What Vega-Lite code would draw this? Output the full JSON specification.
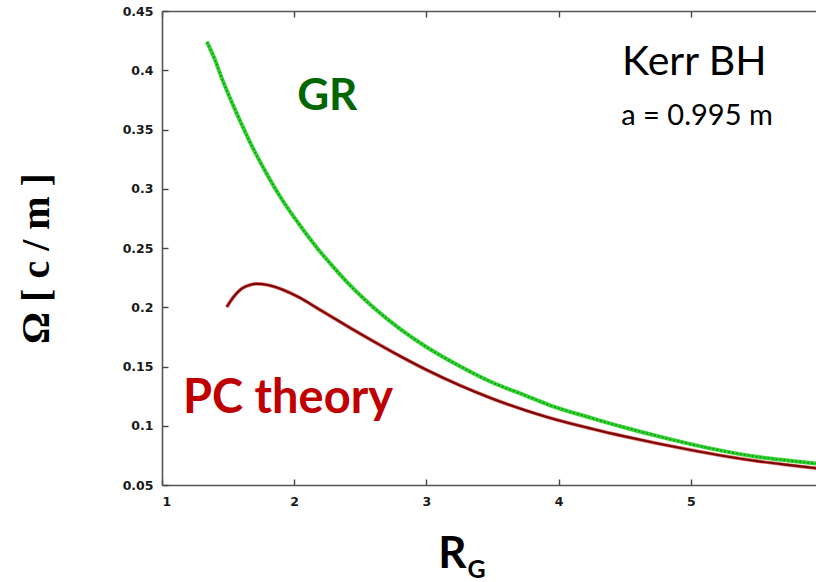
{
  "$schema": "https://vega.github.io/schema/vega-lite/v6.json",
  "width": 661,
  "height": 474,
  "autosize": {"type": "none"},
  "padding": {"left": 162, "top": 11, "right": 0, "bottom": 97},
  "background": "white",
  "config": {
    "view": {"stroke": null},
    "axis": {
      "grid": false,
      "domainColor": "#555555",
      "domainWidth": 1.6,
      "tickColor": "#444444",
      "tickWidth": 1.4,
      "tickSize": -6,
      "labelFont": "DejaVu Sans",
      "labelFontSize": 12.5,
      "labelFontWeight": "bold",
      "labelColor": "#1a1a1a"
    }
  },
  "datasets": {
    "gr": [
      {"r": 1.34, "omega": 0.424},
      {"r": 1.4, "omega": 0.409},
      {"r": 1.45, "omega": 0.394},
      {"r": 1.536, "omega": 0.371},
      {"r": 1.6, "omega": 0.355},
      {"r": 1.687, "omega": 0.3345},
      {"r": 1.8, "omega": 0.311},
      {"r": 1.91, "omega": 0.2905},
      {"r": 2.0, "omega": 0.2758},
      {"r": 2.17, "omega": 0.2505},
      {"r": 2.3, "omega": 0.2335},
      {"r": 2.42, "omega": 0.2188},
      {"r": 2.6, "omega": 0.1998},
      {"r": 2.8, "omega": 0.1818},
      {"r": 3.0, "omega": 0.1665},
      {"r": 3.25, "omega": 0.1505},
      {"r": 3.5, "omega": 0.1365},
      {"r": 3.75, "omega": 0.1255},
      {"r": 3.93, "omega": 0.1175},
      {"r": 4.25, "omega": 0.1065},
      {"r": 4.5, "omega": 0.0985},
      {"r": 4.75, "omega": 0.0912},
      {"r": 5.0, "omega": 0.0845},
      {"r": 5.25, "omega": 0.0786},
      {"r": 5.5, "omega": 0.0738},
      {"r": 5.75, "omega": 0.0705},
      {"r": 6.0, "omega": 0.0675}
    ],
    "pc": [
      {"r": 1.49, "omega": 0.2002},
      {"r": 1.54, "omega": 0.2085},
      {"r": 1.6, "omega": 0.2155},
      {"r": 1.67, "omega": 0.219},
      {"r": 1.717, "omega": 0.2198},
      {"r": 1.8, "omega": 0.2188},
      {"r": 1.914, "omega": 0.2148},
      {"r": 2.04, "omega": 0.2082},
      {"r": 2.17, "omega": 0.1995},
      {"r": 2.3, "omega": 0.1908},
      {"r": 2.42, "omega": 0.1828},
      {"r": 2.6, "omega": 0.1712},
      {"r": 2.8, "omega": 0.1588},
      {"r": 3.0, "omega": 0.1472},
      {"r": 3.25, "omega": 0.1342},
      {"r": 3.5, "omega": 0.1228},
      {"r": 3.75, "omega": 0.113},
      {"r": 3.93, "omega": 0.1068},
      {"r": 4.25, "omega": 0.0975},
      {"r": 4.5, "omega": 0.091},
      {"r": 4.75, "omega": 0.085},
      {"r": 5.0, "omega": 0.0795},
      {"r": 5.25, "omega": 0.0745},
      {"r": 5.5, "omega": 0.0702},
      {"r": 5.75, "omega": 0.0667},
      {"r": 6.0, "omega": 0.0635}
    ],
    "grLabel": [
      {"label": "GR", "r": 2.25, "omega": 0.3665}
    ],
    "pcLabel": [
      {"label": "PC theory", "r": 1.159, "omega": 0.1108}
    ],
    "kerr": [
      {"label": "Kerr BH", "r": 4.48, "omega": 0.396}
    ],
    "spin": [
      {"label": "a = 0.995 m", "r": 4.474, "omega": 0.3538}
    ],
    "subscript": [
      {"label": "G", "r": 3.311, "omega": -0.0285}
    ]
  },
  "resolve": {"axis": {"x": "independent", "y": "independent"}},
  "layer": [
    {
      "data": {"name": "gr"},
      "mark": {"type": "line", "color": "#38d438", "strokeWidth": 4, "interpolate": "monotone"},
      "encoding": {
        "x": {
          "field": "r", "type": "quantitative",
          "scale": {"domain": [1, 6], "nice": false, "zero": false},
          "axis": {
            "orient": "bottom", "values": [1, 2, 3, 4, 5], "format": "d",
            "labelPadding": 16,
            "title": "R",
            "titleFont": "Lato", "titleFontWeight": "bold", "titleFontSize": 44, "titleColor": "#000000",
            "titleX": 290, "titleY": 82, "titleAlign": "center", "titleBaseline": "alphabetic"
          }
        },
        "y": {
          "field": "omega", "type": "quantitative",
          "scale": {"domain": [0.05, 0.45], "nice": false, "zero": false},
          "axis": {
            "orient": "left",
            "values": [0.05, 0.1, 0.15, 0.2, 0.25, 0.3, 0.35, 0.4, 0.45],
            "format": ".2~f",
            "labelPadding": 15,
            "title": "Ω [ c / m ]",
            "titleFont": "Liberation Serif", "titleFontWeight": "bold", "titleFontSize": 40, "titleColor": "#000000",
            "titleAngle": 270, "titleX": -126, "titleY": 247, "titleAlign": "center", "titleBaseline": "middle"
          }
        }
      }
    },
    {
      "data": {"name": "gr"},
      "mark": {"type": "line", "color": "#10a010", "strokeWidth": 1.8, "strokeDash": [2, 2], "interpolate": "monotone"},
      "encoding": {
        "x": {"field": "r", "type": "quantitative", "scale": {"domain": [1, 6], "nice": false, "zero": false}, "axis": null},
        "y": {"field": "omega", "type": "quantitative", "scale": {"domain": [0.05, 0.45], "nice": false, "zero": false}, "axis": null}
      }
    },
    {
      "data": {"name": "pc"},
      "mark": {"type": "line", "color": "#d42a2a", "strokeWidth": 3.6, "opacity": 0.7, "interpolate": "monotone"},
      "encoding": {
        "x": {
          "field": "r", "type": "quantitative",
          "scale": {"domain": [1, 6], "nice": false, "zero": false},
          "axis": {"orient": "top", "values": [1, 2, 3, 4, 5, 6], "labels": false, "title": null}
        },
        "y": {
          "field": "omega", "type": "quantitative",
          "scale": {"domain": [0.05, 0.45], "nice": false, "zero": false},
          "axis": {"orient": "right", "values": [0.05, 0.1, 0.15, 0.2, 0.25, 0.3, 0.35, 0.4, 0.45], "labels": false, "title": null}
        }
      }
    },
    {
      "data": {"name": "pc"},
      "mark": {"type": "line", "color": "#7a0606", "strokeWidth": 2.2, "interpolate": "monotone"},
      "encoding": {
        "x": {"field": "r", "type": "quantitative", "scale": {"domain": [1, 6], "nice": false, "zero": false}, "axis": null},
        "y": {"field": "omega", "type": "quantitative", "scale": {"domain": [0.05, 0.45], "nice": false, "zero": false}, "axis": null}
      }
    },
    {
      "data": {"name": "grLabel"},
      "mark": {"type": "text", "font": "Lato", "fontWeight": "bold", "fontSize": 44, "align": "center", "baseline": "alphabetic", "color": "#006600"},
      "encoding": {
        "x": {"field": "r", "type": "quantitative", "scale": {"domain": [1, 6], "nice": false, "zero": false}, "axis": null},
        "y": {"field": "omega", "type": "quantitative", "scale": {"domain": [0.05, 0.45], "nice": false, "zero": false}, "axis": null},
        "text": {"field": "label"}
      }
    },
    {
      "data": {"name": "pcLabel"},
      "mark": {"type": "text", "font": "Lato", "fontWeight": "bold", "fontSize": 47, "align": "left", "baseline": "alphabetic", "color": "#c00000"},
      "encoding": {
        "x": {"field": "r", "type": "quantitative", "scale": {"domain": [1, 6], "nice": false, "zero": false}, "axis": null},
        "y": {"field": "omega", "type": "quantitative", "scale": {"domain": [0.05, 0.45], "nice": false, "zero": false}, "axis": null},
        "text": {"field": "label"}
      }
    },
    {
      "data": {"name": "kerr"},
      "mark": {"type": "text", "font": "Lato", "fontSize": 41, "align": "left", "baseline": "alphabetic", "color": "#000000"},
      "encoding": {
        "x": {"field": "r", "type": "quantitative", "scale": {"domain": [1, 6], "nice": false, "zero": false}, "axis": null},
        "y": {"field": "omega", "type": "quantitative", "scale": {"domain": [0.05, 0.45], "nice": false, "zero": false}, "axis": null},
        "text": {"field": "label"}
      }
    },
    {
      "data": {"name": "spin"},
      "mark": {"type": "text", "font": "Lato", "fontSize": 29, "align": "left", "baseline": "alphabetic", "color": "#000000"},
      "encoding": {
        "x": {"field": "r", "type": "quantitative", "scale": {"domain": [1, 6], "nice": false, "zero": false}, "axis": null},
        "y": {"field": "omega", "type": "quantitative", "scale": {"domain": [0.05, 0.45], "nice": false, "zero": false}, "axis": null},
        "text": {"field": "label"}
      }
    },
    {
      "data": {"name": "subscript"},
      "mark": {"type": "text", "font": "Lato", "fontWeight": "bold", "fontSize": 25, "align": "left", "baseline": "alphabetic", "color": "#000000"},
      "encoding": {
        "x": {"field": "r", "type": "quantitative", "scale": {"domain": [1, 6], "nice": false, "zero": false}, "axis": null},
        "y": {"field": "omega", "type": "quantitative", "scale": {"domain": [0.05, 0.45], "nice": false, "zero": false}, "axis": null},
        "text": {"field": "label"}
      }
    }
  ]
}
